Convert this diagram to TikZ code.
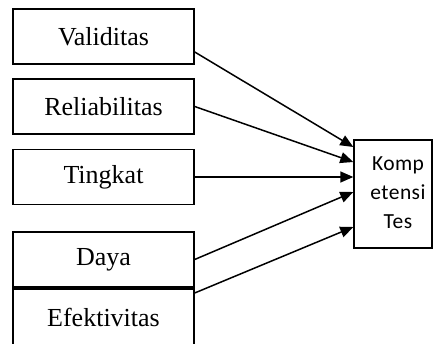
\documentclass[tikz,border=0pt]{standalone}
\usepackage{fontspec}
\setmainfont{Liberation Serif}
\newfontfamily\kfont{Carlito}[LetterSpace=2]
\usetikzlibrary{arrows.meta}
\begin{document}
\begin{tikzpicture}[x=1pt,y=-1pt,
  lbox/.style={draw,line width=1.4pt,minimum width=181pt,minimum height=55pt,inner sep=0pt,font=\fontsize{26}{30}\selectfont},
  kbox/.style={draw,line width=1.4pt,minimum width=78pt,minimum height=108pt,inner sep=0pt,font=\kfont\fontsize{21.5}{29}\selectfont},
  conn/.style={line width=1.5pt,-{Triangle[length=13pt,width=11pt]}}]
\useasboundingbox (0,0) rectangle (434,344);
\node[lbox] (v) at (103.5,36.5) {Validitas};
\node[lbox] (r) at (103.5,106.5) {Reliabilitas};
\node[lbox] (t) at (103.5,177) {Tingkat};
\node[lbox] (d) at (103.5,259.5) {Daya};
\node[lbox,minimum height=56pt] (e) at (103.5,317) {Efektivitas};
\node[kbox] (k) at (393,194) {\hspace*{10pt}\begin{tabular}{@{}c@{}}Komp\\etensi\\Tes\end{tabular}};
\draw[conn] ([yshift=-15.5pt]v.east) -- ([yshift=47pt]k.west);
\draw[conn] (r.east) -- ([yshift=32pt]k.west);
\draw[conn] (t.east) -- ([yshift=17pt]k.west);
\draw[conn] (d.east) -- ([yshift=2pt]k.west);
\draw[conn] ([yshift=24pt]e.east) -- ([yshift=-33pt]k.west);
\end{tikzpicture}
\end{document}
